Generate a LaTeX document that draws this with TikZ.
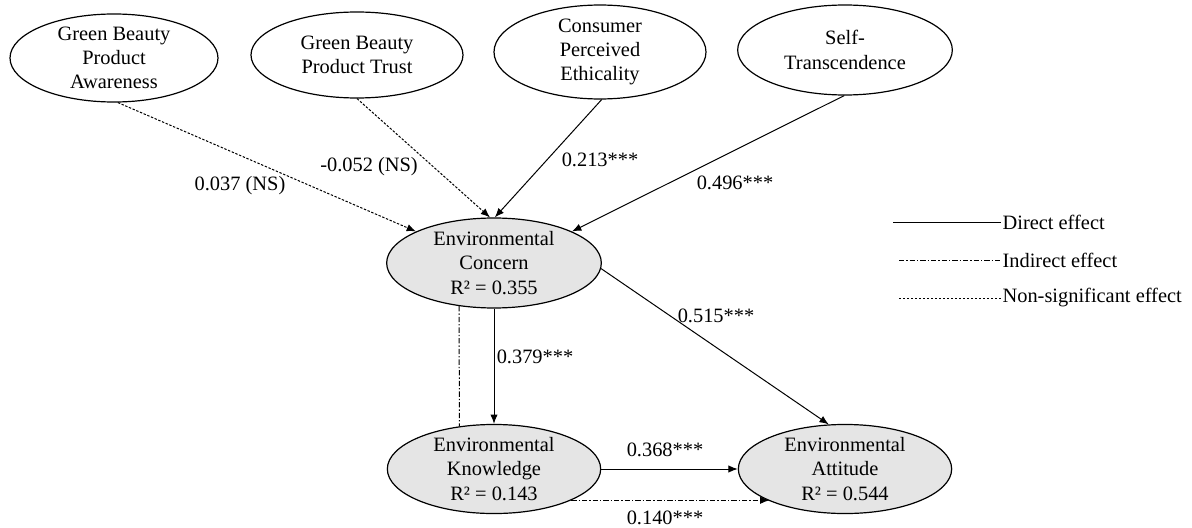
\documentclass[tikz,border=0pt]{standalone}
\usepackage{fontspec}
\setmainfont{Liberation Serif}
\usetikzlibrary{shapes.geometric,arrows.meta,calc}
\begin{document}
\begin{tikzpicture}[x=0.75pt,y=-0.75pt,
  font=\fontsize{15.3}{18.2}\selectfont,
  latent/.style={ellipse,draw,line width=0.9pt,align=center,inner sep=0pt},
  endo/.style={latent,fill=gray!20},
  tip/.style={-{Latex[length=7pt,width=5.5pt]}},
  direct/.style={line width=0.75pt},
  ns/.style={line width=0.75pt,dash pattern=on 1.8pt off 1.2pt},
  indirect/.style={line width=0.75pt,dash pattern=on 4pt off 1.5pt on 1pt off 1.5pt},
  lab/.style={inner sep=1pt}]
\useasboundingbox (0,0) rectangle (1192,528);

% exogenous constructs
\node[latent,minimum width=156pt,minimum height=64pt] (aw) at (114,58) {Green Beauty\\Product\\Awareness};
\node[latent,minimum width=159pt,minimum height=64.5pt] (tr) at (357,55) {Green Beauty\\Product Trust};
\node[latent,minimum width=159pt,minimum height=67.5pt] (et) at (600,52) {Consumer\\Perceived\\Ethicality};
\node[latent,minimum width=161pt,minimum height=67.5pt] (st) at (845,50) {Self-\\Transcendence};

% endogenous constructs
\node[endo,minimum width=161pt,minimum height=67.5pt] (co) at (494,263) {Environmental\\Concern\\R² = 0.355};
\node[endo,minimum width=160pt,minimum height=66pt] (kn) at (494,469) {Environmental\\Knowledge\\R² = 0.143};
\node[endo,minimum width=160pt,minimum height=66pt] (at) at (845,469) {Environmental\\Attitude\\R² = 0.544};

% paths
\draw[ns,tip] (aw.-85) -- (co.158);
\draw[ns,tip] (tr.south) -- (co.95);
\draw[direct,tip] (et.-88) -- (co.89);
\draw[direct,tip] (st.-91) -- (co.22);
\draw[direct,tip] (co.-3) -- (at.110);
\draw[direct,tip] (co.south) -- (kn.north);
\draw[indirect] (co.231.5) -- (kn.129);
\draw[direct,tip] (kn.east) -- (at.west);
\draw[indirect,tip] (kn.-22) -- (kn.-22 -| at.203);

% path labels
\node[lab] (l1) at (240,186) {0.037 (NS)};
\node[lab] (l2) at (369,167) {-0.052 (NS)};
\node[lab] (l3) at (600,160) {0.213***};
\node[lab] (l4) at (735,183) {0.496***};
\node[lab] (l5) at (716,316) {0.515***};
\node[lab] (l6) at (535,357) {0.379***};
\node[lab] (l7) at (665,450) {0.368***};
\node[lab] (l8) at (665,518) {0.140***};

% legend
\node[lab,anchor=west] (g1) at (1001,222) {Direct effect};
\node[lab,anchor=west] (g2) at (1001,260) {Indirect effect};
\node[lab,anchor=west] (g3) at (1001,298) {Non-significant effect};
\coordinate (c1) at (893,222);
\coordinate (c2) at (899,260);
\coordinate (c3) at (899,298);
\draw[direct] (c1) -- (g1.west);
\draw[indirect] (c2) -- (g2.west);
\draw[ns] (c3) -- (g3.west);
\end{tikzpicture}
\end{document}
